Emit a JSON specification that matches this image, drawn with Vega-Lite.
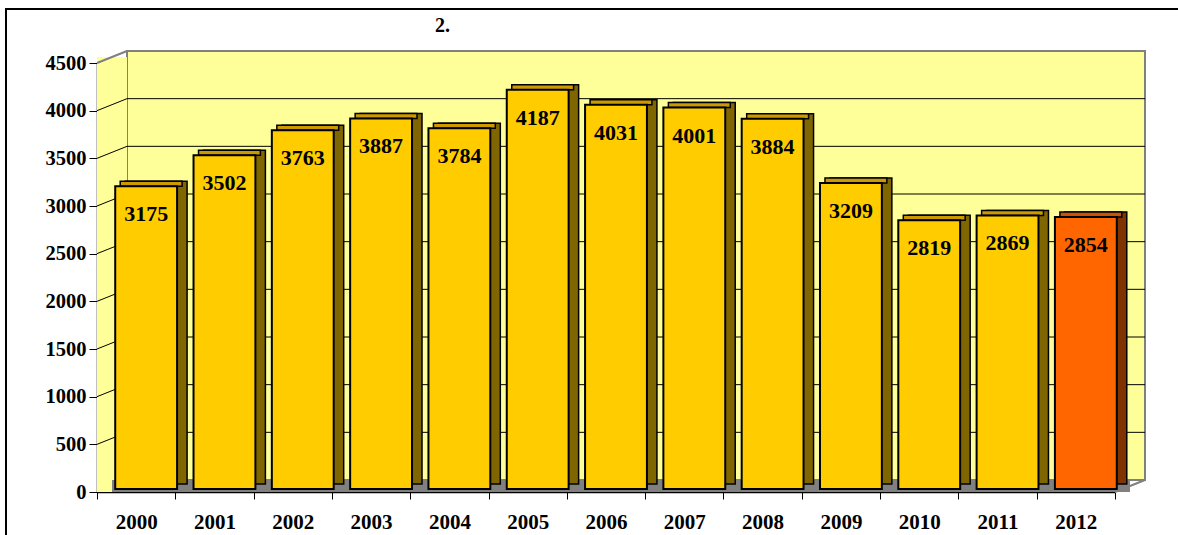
{
  "$schema": "https://vega.github.io/schema/vega-lite/v6.json",
  "width": 1018,
  "height": 429,
  "autosize": {"type": "none"},
  "padding": {"left": 97, "top": 63, "right": 63, "bottom": 43},
  "background": "white",
  "title": {"text": "2.", "anchor": "start", "dx": 338, "offset": -28, "font": "Liberation Serif", "fontSize": 20, "fontWeight": "bold", "color": "black", "frame": "group"},
  "config": {
    "view": {"stroke": null},
    "numberFormat": "d",
    "axisY": {"labelFont": "Liberation Serif", "labelFontSize": 20.5, "labelFontWeight": "bold", "labelColor": "black", "tickColor": "black", "tickSize": 8, "domainColor": "black", "labelPadding": 3, "grid": false, "domainWidth": 1.5, "tickCount": 10}
  },
  "datasets": {
    "years": [
      {"year": "2000", "value": 3175},
      {"year": "2001", "value": 3502},
      {"year": "2002", "value": 3763},
      {"year": "2003", "value": 3887},
      {"year": "2004", "value": 3784},
      {"year": "2005", "value": 4187},
      {"year": "2006", "value": 4031},
      {"year": "2007", "value": 4001},
      {"year": "2008", "value": 3884},
      {"year": "2009", "value": 3209},
      {"year": "2010", "value": 2819},
      {"year": "2011", "value": 2869},
      {"year": "2012", "value": 2854}
    ],
    "grid": [
      {"v": 500}, {"v": 1000}, {"v": 1500}, {"v": 2000},
      {"v": 2500}, {"v": 3000}, {"v": 3500}, {"v": 4000}
    ],
    "one": [{}]
  },
  "resolve": {"scale": {"x": "independent"}},
  "layer": [
    {
      "layer": [
        {
          "data": {"name": "one"},
          "mark": {"type": "rect", "filled": false, "stroke": "black", "strokeWidth": 2, "xOffset": -91, "x2Offset": 110, "yOffset": 100, "y2Offset": -54},
          "encoding": {
            "x": {"datum": 0, "type": "quantitative", "scale": {"domain": [0, 1], "nice": false, "zero": false}, "axis": null},
            "x2": {"datum": 1},
            "y": {"datum": 0, "type": "quantitative", "title": null, "scale": {"domain": [0, 4500], "nice": false}},
            "y2": {"datum": 4500}
          }
        },
        {
          "data": {"name": "one"},
          "mark": {"type": "rect", "fill": "#FFFF99", "stroke": "#808080", "strokeWidth": 2, "xOffset": 30, "x2Offset": 30, "yOffset": -12, "y2Offset": -12},
          "encoding": {
            "x": {"datum": 0, "type": "quantitative"},
            "x2": {"datum": 1},
            "y": {"datum": 0, "type": "quantitative"},
            "y2": {"datum": 4500}
          }
        },
        {
          "data": {"name": "one"},
          "mark": {"type": "rect", "fill": "#FFFF99", "x2Offset": 30, "y2Offset": -6},
          "encoding": {
            "x": {"datum": 0, "type": "quantitative"},
            "x2": {"datum": 0},
            "y": {"datum": 0, "type": "quantitative"},
            "y2": {"datum": 4500}
          }
        },
        {
          "data": {"name": "one"},
          "mark": {"type": "rect", "fill": "#808080", "xOffset": 15, "x2Offset": 15, "y2Offset": -12},
          "encoding": {
            "x": {"datum": 0, "type": "quantitative"},
            "x2": {"datum": 1},
            "y": {"datum": 0, "type": "quantitative"},
            "y2": {"datum": 0}
          }
        },
        {
          "data": {"name": "grid"},
          "mark": {"type": "rule", "stroke": "black", "strokeWidth": 1, "xOffset": 30, "x2Offset": 30, "yOffset": -12},
          "encoding": {
            "x": {"datum": 0, "type": "quantitative"},
            "x2": {"datum": 1},
            "y": {"field": "v", "type": "quantitative", "title": null}
          }
        },
        {
          "data": {"name": "grid"},
          "mark": {"type": "rule", "stroke": "black", "strokeWidth": 1, "x2Offset": 30, "y2Offset": -12},
          "encoding": {
            "x": {"datum": 0, "type": "quantitative"},
            "x2": {"datum": 0},
            "y": {"field": "v", "type": "quantitative", "title": null},
            "y2": {"field": "v"}
          }
        },
        {
          "data": {"name": "one"},
          "mark": {"type": "rule", "stroke": "#808080", "strokeWidth": 2, "x2Offset": 30, "y2Offset": -12},
          "encoding": {
            "x": {"datum": 0, "type": "quantitative"},
            "x2": {"datum": 0},
            "y": {"datum": 4500, "type": "quantitative"},
            "y2": {"datum": 4500}
          }
        },
        {
          "data": {"name": "one"},
          "mark": {"type": "rule", "stroke": "#808080", "strokeWidth": 2, "x2Offset": 30, "y2Offset": -12},
          "encoding": {
            "x": {"datum": 1, "type": "quantitative"},
            "x2": {"datum": 1},
            "y": {"datum": 0, "type": "quantitative"},
            "y2": {"datum": 0}
          }
        }
      ]
    },
    {
      "data": {"name": "years"},
      "encoding": {
        "x": {
          "field": "year", "type": "ordinal", "title": null,
          "scale": {"paddingInner": 0, "paddingOuter": 0},
          "axis": {"orient": "bottom", "labelAngle": 0, "tickBand": "extent", "tickSize": 7, "labelPadding": 12, "labelFont": "Liberation Serif", "labelFontSize": 21, "labelFontWeight": "bold", "labelColor": "black", "domainColor": "black", "tickColor": "black", "grid": false, "domainWidth": 1.5}
        },
        "y": {
          "field": "value", "type": "quantitative", "title": null,
          "scale": {"domain": [0, 4500], "nice": false}
        }
      },
      "layer": [
        {
          "mark": {"type": "bar", "width": {"band": 0.79}, "xOffset": 20, "yOffset": -8, "y2Offset": -8, "stroke": "black", "strokeWidth": 1.5},
          "encoding": {
            "y2": {"datum": 0},
            "fill": {"condition": {"test": "datum.year === '2012'", "value": "#803300"}, "value": "#806600"}
          }
        },
        {
          "mark": {"type": "bar", "width": {"band": 0.79}, "xOffset": 15, "yOffset": -8, "y2Offset": -3, "stroke": "black", "strokeWidth": 1.5},
          "encoding": {
            "y2": {"field": "value"},
            "fill": {"condition": {"test": "datum.year === '2012'", "value": "#CC5200"}, "value": "#CC9900"}
          }
        },
        {
          "mark": {"type": "bar", "width": {"band": 0.79}, "xOffset": 10, "yOffset": -3, "y2Offset": -3, "stroke": "black", "strokeWidth": 2},
          "encoding": {
            "y2": {"datum": 0},
            "fill": {"condition": {"test": "datum.year === '2012'", "value": "#FF6600"}, "value": "#FFCC00"}
          }
        },
        {
          "mark": {"type": "text", "xOffset": 10, "yOffset": 25, "baseline": "middle", "align": "center", "font": "Liberation Serif", "fontSize": 22, "fontWeight": "bold", "color": "black"},
          "encoding": {
            "text": {"field": "value", "type": "quantitative", "format": "d"}
          }
        }
      ]
    }
  ]
}
